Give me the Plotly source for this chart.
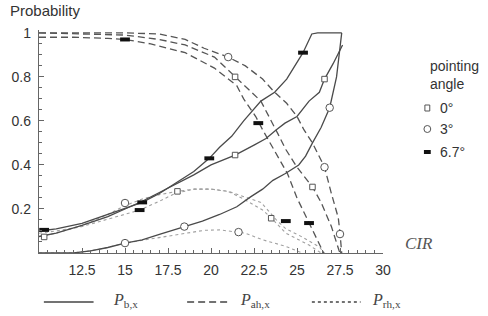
import plotly.graph_objects as go

# ---------------- data ----------------
# P_b,x (solid)
B0_X = [10, 11, 12.5, 14, 15, 16, 17, 18, 19, 20, 21.4, 22.5, 23.2, 23.8, 24.3, 25, 25.7, 26.3, 26.6, 27.1, 27.65]
B0_Y = [0.075, 0.09, 0.125, 0.165, 0.20, 0.235, 0.275, 0.315, 0.355, 0.40, 0.445, 0.49, 0.52, 0.56, 0.59, 0.62, 0.69, 0.73, 0.79, 0.86, 0.945]
B3_X = [10, 11, 12, 13, 14, 15, 16, 17, 18, 18.45, 19.5, 20.5, 21.5, 22.3, 23, 23.6, 24.3, 25.1, 25.5, 25.9, 26.4, 26.9, 27.3, 27.6]
B3_Y = [0.0, 0.0, 0.0, 0.01, 0.025, 0.045, 0.06, 0.085, 0.11, 0.12, 0.145, 0.175, 0.21, 0.255, 0.29, 0.33, 0.36, 0.40, 0.44, 0.50, 0.57, 0.66, 0.80, 1.0]
B67_X = [10, 11, 12.5, 14, 15, 16, 17, 18, 19, 19.9, 20.5, 21.2, 21.9, 22.9, 23.7, 24.4, 24.9, 25.35, 25.86, 26.2, 27.6]
B67_Y = [0.10, 0.11, 0.135, 0.175, 0.205, 0.23, 0.27, 0.32, 0.37, 0.43, 0.48, 0.53, 0.60, 0.69, 0.73, 0.79, 0.85, 0.91, 0.995, 1.0, 1.0]

# P_ah,x (long dash)
AH0_X = [10, 15, 17, 18.5, 20.2, 21.4, 22.9, 23.9, 24.35, 25, 25.9, 26.4, 27, 27.45, 27.5]
AH0_Y = [1.0, 0.99, 0.97, 0.945, 0.89, 0.80, 0.69, 0.54, 0.47, 0.39, 0.30, 0.23, 0.12, 0.01, 0.0]
AH3_X = [10, 12, 15, 17, 18.5, 19.6, 21, 22, 23, 23.7, 24.4, 25, 25.4, 25.9, 26.6, 27.0, 27.4, 27.5, 27.6]
AH3_Y = [1.0, 1.0, 1.0, 0.995, 0.97, 0.93, 0.89, 0.85, 0.79, 0.73, 0.68, 0.62, 0.56, 0.50, 0.39, 0.27, 0.16, 0.09, 0.0]
AH67_X = [10, 12, 14, 15, 16.5, 18.5, 20.2, 21.5, 21.9, 22.6, 23.0, 23.8, 24.45, 25.0, 25.7, 26.3, 26.55]
AH67_Y = [0.98, 0.98, 0.975, 0.97, 0.95, 0.91, 0.84, 0.76, 0.70, 0.62, 0.56, 0.45, 0.36, 0.25, 0.14, 0.045, 0.0]

# P_rh,x (short dash, thin)
RH0_X = [10, 11, 12.5, 14, 15, 16, 17, 18.05, 19, 20, 21, 21.9, 23, 23.5, 24.35, 25.7, 26.4]
RH0_Y = [0.075, 0.09, 0.125, 0.175, 0.215, 0.245, 0.265, 0.28, 0.29, 0.29, 0.28, 0.245, 0.195, 0.16, 0.09, 0.036, 0.0]
RH3_X = [10, 12, 13, 14, 15, 16, 17, 18, 19, 19.6, 20.5, 21.6, 22, 23, 24.35, 25.3]
RH3_Y = [0.0, 0.0, 0.01, 0.025, 0.045, 0.058, 0.07, 0.082, 0.095, 0.103, 0.105, 0.095, 0.09, 0.06, 0.03, 0.0]
RH67_X = [10, 11, 12.5, 14, 15, 15.85, 17, 17.9, 19, 20, 21, 21.9, 22.9, 23.3, 23.8, 24.35, 25.3, 26.3, 26.6]
RH67_Y = [0.09, 0.10, 0.12, 0.155, 0.175, 0.195, 0.235, 0.27, 0.29, 0.29, 0.28, 0.255, 0.23, 0.195, 0.15, 0.11, 0.073, 0.027, 0.0]

# marker positions per pointing angle
MK0_X = [10.3, 21.4, 26.6, 21.4, 25.9, 18.05, 23.5]
MK0_Y = [0.073, 0.445, 0.79, 0.80, 0.30, 0.28, 0.158]
MK3_X = [15, 18.45, 26.9, 21.0, 26.6, 27.5, 15, 21.6]
MK3_Y = [0.045, 0.12, 0.66, 0.89, 0.39, 0.086, 0.227, 0.095]
MK67_X = [10.3, 16, 19.9, 25.35, 15, 22.75, 25.7, 15.85, 24.35]
MK67_Y = [0.105, 0.23, 0.43, 0.91, 0.97, 0.59, 0.136, 0.195, 0.145]

X_TICKS = [12.5, 15, 17.5, 20, 22.5, 25, 27.5, 30]
X_TICK_TEXT = ["12.5", "15", "17.5", "20", "22.5", "25", "27.5", "30"]
Y_TICKS = [0.2, 0.4, 0.6, 0.8, 1]
Y_TICK_TEXT = ["0.2", "0.4", "0.6", "0.8", "1"]
ANGLE_LABELS = ["0°", "3°", "6.7°"]
LEGEND_LABELS = ["<i>P</i><sub>b,x</sub>", "<i>P</i><sub>ah,x</sub>", "<i>P</i><sub>rh,x</sub>"]

# ---------------- figure ----------------
fig = go.Figure()
DARK = "#4a4a4a"
MID = "#555555"
LIGHT = "#a0a0a0"

def line(x, y, color, dash, width):
    fig.add_trace(go.Scatter(x=x, y=y, mode="lines", line=dict(color=color, dash=dash, width=width),
                             showlegend=False, hoverinfo="skip"))

for x, y in [(RH0_X, RH0_Y), (RH3_X, RH3_Y), (RH67_X, RH67_Y)]:
    line(x, y, LIGHT, "dot", 1.1)
for x, y in [(AH0_X, AH0_Y), (AH3_X, AH3_Y), (AH67_X, AH67_Y)]:
    line(x, y, MID, "7px,4px", 1.3)
for x, y in [(B0_X, B0_Y), (B3_X, B3_Y), (B67_X, B67_Y)]:
    line(x, y, DARK, "solid", 1.3)

fig.add_trace(go.Scatter(x=MK0_X, y=MK0_Y, mode="markers", showlegend=False, hoverinfo="skip",
                         marker=dict(symbol="square", size=5.5, color="white", line=dict(color="#555", width=1))))
fig.add_trace(go.Scatter(x=MK3_X, y=MK3_Y, mode="markers", showlegend=False, hoverinfo="skip",
                         marker=dict(symbol="circle", size=7.5, color="white", line=dict(color="#555", width=1))))
fig.add_trace(go.Scatter(x=MK67_X, y=MK67_Y, mode="markers", showlegend=False, hoverinfo="skip",
                         marker=dict(symbol="line-ew", size=7, line=dict(color="#111", width=4))))

L, R, T, B = 30, 105, 30, 63
W, H = 488, 316
pw, ph = W - L - R, H - T - B

def px(xp):
    return (xp - L) / pw

def py(yp):
    return (H - B - yp) / ph

font_sans = "Liberation Sans, Arial, sans-serif"
font_serif = "Liberation Serif, Times New Roman, serif"

fig.update_layout(
    width=W, height=H, margin=dict(l=L, r=R, t=T, b=B),
    paper_bgcolor="white", plot_bgcolor="white",
    xaxis=dict(range=[10, 30], tickvals=X_TICKS, ticktext=X_TICK_TEXT, showgrid=False, zeroline=False,
               showline=True, linecolor="#666", linewidth=1.3, ticks="inside", ticklen=5, tickcolor="#666",
               ticklabelstandoff=4,
               minor=dict(ticks="inside", dtick=0.5, tick0=10, ticklen=2.5, tickcolor="#666"),
               tickfont=dict(family=font_sans, size=14, color="#333")),
    yaxis=dict(range=[0, 1.013], tickvals=Y_TICKS, ticktext=Y_TICK_TEXT, showgrid=False, zeroline=False,
               showline=True, linecolor="#666", linewidth=1.3, ticks="inside", ticklen=5, tickcolor="#666",
               ticklabelstandoff=4,
               minor=dict(ticks="inside", dtick=0.05, tick0=0, ticklen=2.5, tickcolor="#666"),
               tickfont=dict(family=font_sans, size=14, color="#333")),
)

ann = []
ann.append(dict(text="Probability", x=px(-2), y=py(11), xref="paper", yref="paper", xanchor="left",
                yanchor="middle", showarrow=False, font=dict(family=font_sans, size=15, color="#333")))
ann.append(dict(text="<i>CIR</i>", x=px(404), y=py(243), xref="paper", yref="paper", xanchor="left",
                yanchor="middle", showarrow=False, font=dict(family=font_serif, size=17, color="#555")))
ann.append(dict(text="pointing<br>angle", x=px(429), y=py(75), xref="paper", yref="paper", xanchor="left",
                yanchor="middle", align="left", showarrow=False, font=dict(family=font_sans, size=14, color="#333")))
ang_y = [108, 129, 152]
for lab, yy in zip(ANGLE_LABELS, ang_y):
    ann.append(dict(text=lab, x=px(439), y=py(yy), xref="paper", yref="paper", xanchor="left",
                    yanchor="middle", showarrow=False, font=dict(family=font_sans, size=14, color="#333")))

shapes = []
# angle legend symbols
shapes.append(dict(type="rect", xref="paper", yref="paper", x0=px(426), x1=px(431), y0=py(111), y1=py(105),
                   line=dict(color="#555", width=1), fillcolor="white"))
shapes.append(dict(type="circle", xref="paper", yref="paper", x0=px(425), x1=px(432), y0=py(132.5), y1=py(125.5),
                   line=dict(color="#555", width=1), fillcolor="white"))
shapes.append(dict(type="rect", xref="paper", yref="paper", x0=px(425), x1=px(432), y0=py(154), y1=py(150),
                   line=dict(color="#111", width=0), fillcolor="#111"))

# bottom legend
leg_y = 302
samples = [(35, 86, "solid", 104), (182, 227, "7px,4px", 234), (310, 360, "3px,3px", 370)]
for (x0, x1, dash, tx), lab in zip(samples, LEGEND_LABELS):
    shapes.append(dict(type="line", xref="paper", yref="paper", x0=px(x0), x1=px(x1), y0=py(leg_y), y1=py(leg_y),
                       line=dict(color="#444", width=1.3, dash=dash)))
    ann.append(dict(text=lab, x=px(tx), y=py(leg_y - 2), xref="paper", yref="paper", xanchor="left",
                    yanchor="middle", showarrow=False, font=dict(family=font_serif, size=16, color="#444")))

fig.update_layout(annotations=ann, shapes=shapes)
fig.write_html("out.html")
